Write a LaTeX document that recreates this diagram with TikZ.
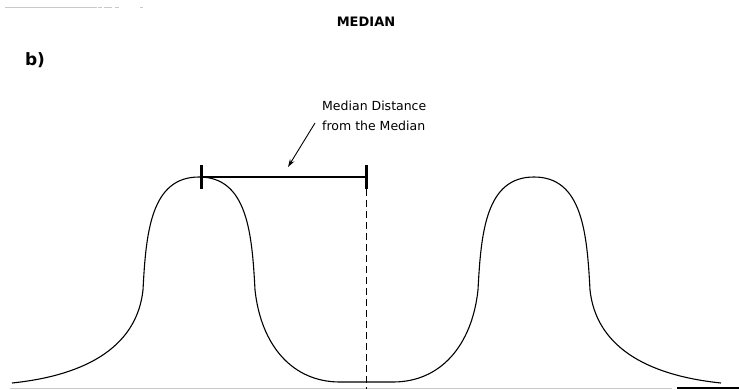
\documentclass[tikz,border=0pt]{standalone}
\usepackage{fontspec}
\setmainfont{DejaVu Sans}
\usepackage{tikz}
\usetikzlibrary{arrows.meta,positioning}
\definecolor{scang}{HTML}{C8C8C8}
\tikzset{
  crv/.style={line width=1.1pt,black},
  bar/.style={line width=2pt},
  tk/.style={line width=3pt},
  dsh/.style={line width=0.8pt,dash pattern=on 7pt off 4pt},
  ar/.style={-{Stealth[length=8pt,width=5pt]},line width=0.9pt},
  lbl/.style={font=\fontsize{12.5}{20}\selectfont,align=left,inner sep=0pt}
}
\begin{document}
\begin{tikzpicture}[x=1pt,y=-1pt]
\useasboundingbox (0,0) rectangle (739,389);
% scan edges
\draw[scang,line width=0.8pt] (5,7)--(97,7);
\foreach \a/\b in {98/102,104/112,115/119,140/143} \draw[scang,line width=0.8pt] (\a,7)--(\b,7);
\draw[scang,line width=0.8pt] (10,388)--(672,388);
\draw[line width=1.2pt] (677,388)--(739,388);
% two bumps
\draw[crv] (12,383) .. controls (89,375) and (137,345) .. (143,290)
  .. controls (146,232) and (151,177) .. (199,177)
  .. controls (247,177) and (252,232) .. (255,290)
  .. controls (261,345) and (292,382) .. (340,382) -- (393,382)
  .. controls (441,382) and (472,345) .. (478,290)
  .. controls (481,232) and (486,177) .. (534,177)
  .. controls (582,177) and (587,232) .. (590,290)
  .. controls (596,345) and (644,375) .. (721,383);
% distance bar
\coordinate (pk) at (201,177);
\coordinate (md) at (366,177);
\coordinate (foot) at (366,389);
\draw[bar] (pk)--(md);
\draw[tk] ([yshift=12pt]pk)--([yshift=-12pt]pk);
\draw[tk] ([yshift=12pt]md)--([yshift=-12pt]md);
\draw[dsh] ([yshift=-12pt]md)--(foot);
% texts
\node[font=\bfseries\fontsize{13}{15}\selectfont] (ttl) at (366,22) {MEDIAN};
\node[font=\bfseries\fontsize{17}{19}\selectfont] (part) at (35,60) {b)};
\node[lbl,anchor=north west] (dist) at (322,101) {Median Distance\\from the Median};
\coordinate (tail) at (315,123);
\coordinate (tip) at (288,167);
\draw[ar] (tail)--(tip);
\end{tikzpicture}
\end{document}
